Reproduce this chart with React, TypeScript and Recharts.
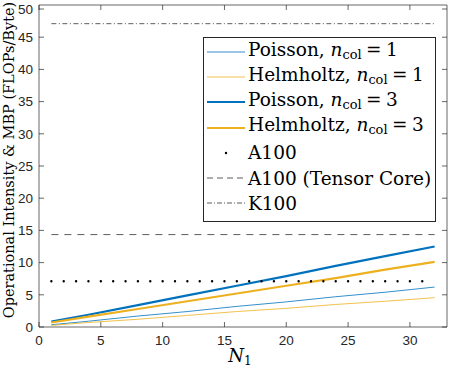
import React from 'react';
import { LineChart, Line, XAxis, YAxis, ReferenceLine, ReferenceArea, Legend } from 'recharts';

// N1 sample points and operational intensity of each solver (FLOPs/Byte)
const nValues = [1, 4, 8, 12, 16, 20, 24, 28, 32];
const poisson1 = [0.35, 0.9, 1.7, 2.4, 3.2, 3.9, 4.7, 5.4, 6.2];
const helmholtz1 = [0.25, 0.7, 1.2, 1.8, 2.4, 2.9, 3.5, 4.0, 4.55];
const poisson3 = [0.85, 1.9, 3.4, 4.9, 6.4, 7.9, 9.5, 11.0, 12.5];
const helmholtz3 = [0.7, 1.6, 2.8, 4.0, 5.2, 6.4, 7.6, 8.9, 10.1];

// machine balance points (FLOPs/Byte)
const peakA100 = 7.1;
const peakA100Tensor = 14.35;
const peakK100 = 47.1;
const peakRange = [1, 32];

const xTicks = [0, 5, 10, 15, 20, 25, 30];
const yTicks = [0, 5, 10, 15, 20, 25, 30, 35, 40, 45, 50];

const BLUE = '#0072BD';
const ORANGE = '#EDB120';
const AXIS = '#262626';
const SERIF = '"DejaVu Serif", "Liberation Serif", serif';
const SANS = '"Liberation Sans", Arial, sans-serif';

const W = 449;
const H = 367;
const M = { top: 5, right: 2, left: 0, bottom: 0 };
const Y_W = 39;
const X_H = 40;
const X_MAX = 33;
const Y_MAX = 50;
const TICK = 5;
const plotTop = M.top;
const plotBottom = H - M.bottom - X_H;
const plotLeft = M.left + Y_W;
const plotRight = W - M.right;
const unitPx = (plotRight - plotLeft) / X_MAX;

const data = nValues.map((n, i) => ({
  n,
  p1: poisson1[i],
  h1: helmholtz1[i],
  p3: poisson3[i],
  h3: helmholtz3[i],
}));

const Ncol = ({ v }: { v: number }) => (
  <span>
    <i>n</i>
    <sub style={{ fontSize: '0.7em', verticalAlign: '-0.25em' }}>col</sub>
    <span style={{ margin: '0 0.24em' }}>=</span>
    {v}
  </span>
);

const legendItems = [
  { label: <span>Poisson, <Ncol v={1} /></span>, color: BLUE, width: 0.8, dash: '' },
  { label: <span>Helmholtz, <Ncol v={1} /></span>, color: ORANGE, width: 0.8, dash: '' },
  { label: <span>Poisson, <Ncol v={3} /></span>, color: BLUE, width: 2.2, dash: '' },
  { label: <span>Helmholtz, <Ncol v={3} /></span>, color: ORANGE, width: 2.2, dash: '' },
  { label: <span>A100</span>, color: '#000', width: 0, dash: 'dot' },
  { label: <span>A100 (Tensor Core)</span>, color: '#333', width: 0.8, dash: '6 4' },
  { label: <span>K100</span>, color: '#333', width: 0.8, dash: '5 2 1 2' },
];

const LegendBox = () => (
  <div
    style={{
      width: 233,
      height: 185,
      border: `1px solid ${AXIS}`,
      background: '#fff',
      fontFamily: SERIF,
      fontSize: 18.5,
      color: '#000',
      paddingTop: 1,
      boxSizing: 'border-box',
    }}
  >
    {legendItems.map((it, i) => (
      <div key={i} style={{ display: 'flex', alignItems: 'center', height: 25.3, lineHeight: '25px', whiteSpace: 'nowrap' }}>
        <svg width={38} height={20} style={{ marginLeft: 3, marginRight: 3 }}>
          {it.dash === 'dot' ? (
            <circle cx={19} cy={10} r={1.2} fill="#000" />
          ) : (
            <line x1={0} x2={38} y1={10} y2={10} stroke={it.color} strokeWidth={it.width} strokeDasharray={it.dash} />
          )}
        </svg>
        {it.label}
      </div>
    ))}
  </div>
);

const YLabel = () => (
  <text
    transform={`translate(14, 160) rotate(-90)`}
    textAnchor="middle"
    fontFamily={SERIF}
    fontSize={14.5}
    fill="#000"
  >
    Operational Intensity &amp; MBP (FLOPs/Byte)
  </text>
);

const XLabel = () => (
  <text x={240} y={362} textAnchor="middle" fontFamily={SERIF} fontSize={18} fontStyle="italic" fill="#000">
    N<tspan fontSize={12} fontStyle="normal" dy={3}>1</tspan>
  </text>
);

// tick label plus inward tick marks on the bottom and top edges
const XTick = (props: any) => {
  const { x, payload } = props;
  return (
    <g>
      <line x1={x} x2={x} y1={plotBottom} y2={plotBottom - TICK} stroke={AXIS} strokeWidth={0.7} />
      <line x1={x} x2={x} y1={plotTop} y2={plotTop + TICK} stroke={AXIS} strokeWidth={0.7} />
      <text x={x} y={plotBottom + 18} textAnchor="middle" fill={AXIS} fontSize={13.5} fontFamily={SANS}>
        {payload.value}
      </text>
    </g>
  );
};

// tick label plus inward tick marks on the left and right edges
const YTick = (props: any) => {
  const { y, payload } = props;
  return (
    <g>
      <line x1={plotLeft} x2={plotLeft + TICK} y1={y} y2={y} stroke={AXIS} strokeWidth={0.7} />
      <line x1={plotRight} x2={plotRight - TICK} y1={y} y2={y} stroke={AXIS} strokeWidth={0.7} />
      <text x={plotLeft - 6} y={y} dy={4.8} textAnchor="end" fill={AXIS} fontSize={13.5} fontFamily={SANS}>
        {payload.value}
      </text>
    </g>
  );
};

export default function App() {
  return (
    <div style={{ position: 'absolute', left: 0, top: 0, background: '#fff' }}>
      <LineChart width={W} height={H} data={data} margin={M}>
        <XAxis
          dataKey="n"
          type="number"
          domain={[0, X_MAX]}
          ticks={xTicks}
          height={X_H}
          axisLine={false}
          tickLine={false}
          tick={<XTick />}
          label={<XLabel />}
        />
        <YAxis
          type="number"
          domain={[0, Y_MAX]}
          ticks={yTicks}
          width={Y_W}
          axisLine={false}
          tickLine={false}
          tick={<YTick />}
          label={<YLabel />}
        />
        <ReferenceArea x1={0} x2={X_MAX} y1={0} y2={Y_MAX} fill="none" stroke={AXIS} strokeWidth={0.7} fillOpacity={0} />
        <Line dataKey="p1" stroke={BLUE} strokeWidth={0.8} dot={false} type="linear" isAnimationActive={false} />
        <Line dataKey="h1" stroke={ORANGE} strokeWidth={0.8} dot={false} type="linear" isAnimationActive={false} />
        <Line dataKey="p3" stroke={BLUE} strokeWidth={2.2} dot={false} type="linear" isAnimationActive={false} />
        <Line dataKey="h3" stroke={ORANGE} strokeWidth={2.2} dot={false} type="linear" isAnimationActive={false} />
        <ReferenceLine
          segment={[{ x: peakRange[0], y: peakA100 }, { x: peakRange[1], y: peakA100 }]}
          stroke="#000"
          strokeWidth={2.4}
          strokeLinecap="round"
          strokeDasharray={`0 ${unitPx}`}
        />
        <ReferenceLine
          segment={[{ x: peakRange[0], y: peakA100Tensor }, { x: peakRange[1], y: peakA100Tensor }]}
          stroke="#333"
          strokeWidth={0.8}
          strokeDasharray="7 6"
        />
        <ReferenceLine
          segment={[{ x: peakRange[0], y: peakK100 }, { x: peakRange[1], y: peakK100 }]}
          stroke="#333"
          strokeWidth={0.8}
          strokeDasharray="5 2.5 1 2.5"
        />
        <Legend
          layout="vertical"
          align="center"
          verticalAlign="middle"
          wrapperStyle={{ left: 203, top: 37, width: 233 }}
          content={() => <LegendBox />}
        />
      </LineChart>
    </div>
  );
}
